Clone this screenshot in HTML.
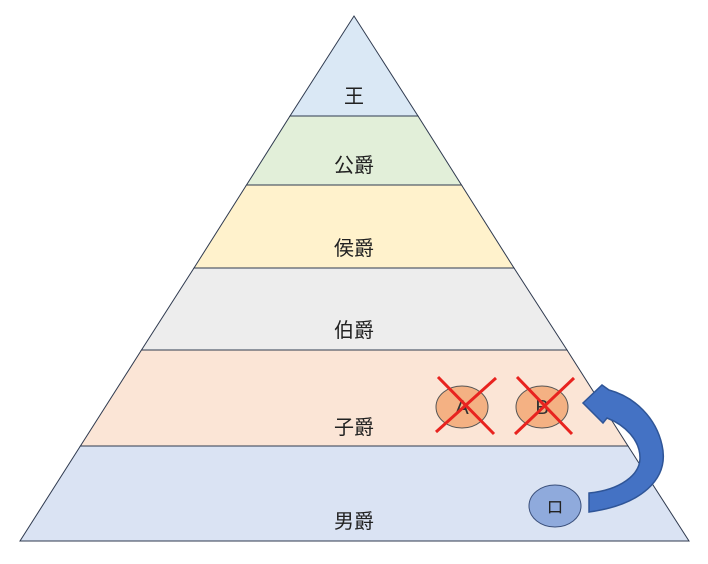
<!DOCTYPE html>
<html><head><meta charset="utf-8"><style>
html,body{margin:0;padding:0;background:#fff;width:708px;height:564px;overflow:hidden}
text{font-family:"Liberation Sans","Noto Sans CJK JP",sans-serif}
</style></head><body>
<svg width="708" height="564" viewBox="0 0 708 564" xmlns="http://www.w3.org/2000/svg">
<g stroke="#2f3a4f" stroke-width="1">
<polygon points="354,16 418,116 290,116" fill="#dae8f5"/>
<polygon points="290,116 418,116 461.5,185 246.5,185" fill="#e2efd9"/>
<polygon points="246.5,185 461.5,185 514,268 194,268" fill="#fff2cc"/>
<polygon points="194,268 514,268 567,350 141.5,350" fill="#ededed"/>
<polygon points="141.5,350 567,350 628,446 80.4,446" fill="#fbe5d6"/>
<polygon points="80.4,446 628,446 689,541 20,541" fill="#dae3f3"/>
</g>
<g font-size="20" fill="#222" text-anchor="middle">
<text x="354" y="103">王</text>
<text x="354" y="172">公爵</text>
<text x="354" y="255">侯爵</text>
<text x="354" y="337">伯爵</text>
<text x="354" y="434">子爵</text>
<text x="354" y="528">男爵</text>
</g>
<ellipse cx="462" cy="407" rx="26" ry="21" fill="#f4b183" stroke="#555" stroke-width="1"/>
<ellipse cx="542" cy="407" rx="26" ry="21" fill="#f4b183" stroke="#555" stroke-width="1"/>
<text x="462" y="414" font-size="20" text-anchor="middle" fill="#333">A</text>
<text x="542" y="414" font-size="20" text-anchor="middle" fill="#333">B</text>
<g stroke="#e8231f" stroke-width="3">
<line x1="438" y1="377" x2="494" y2="434"/><line x1="496" y1="378" x2="436" y2="432"/>
<line x1="517" y1="377" x2="572" y2="434"/><line x1="574" y1="378" x2="515" y2="434"/>
</g>
<ellipse cx="555" cy="506" rx="26" ry="21" fill="#8faadc" stroke="#3a4f7a" stroke-width="1"/>
<text x="555" y="513" font-size="17" text-anchor="middle" fill="#222">ロ</text>
<path d="M589,512 C640,505 670,480 662,445 C656,418 635,397 609,390 L602,385 L583,403 L603,423 L607,418 C625,425 640,440 640,458 C640,475 620,490 589,493 Z" fill="#4472c4" stroke="#2f5597" stroke-width="1.5"/>
</svg>
</body></html>
